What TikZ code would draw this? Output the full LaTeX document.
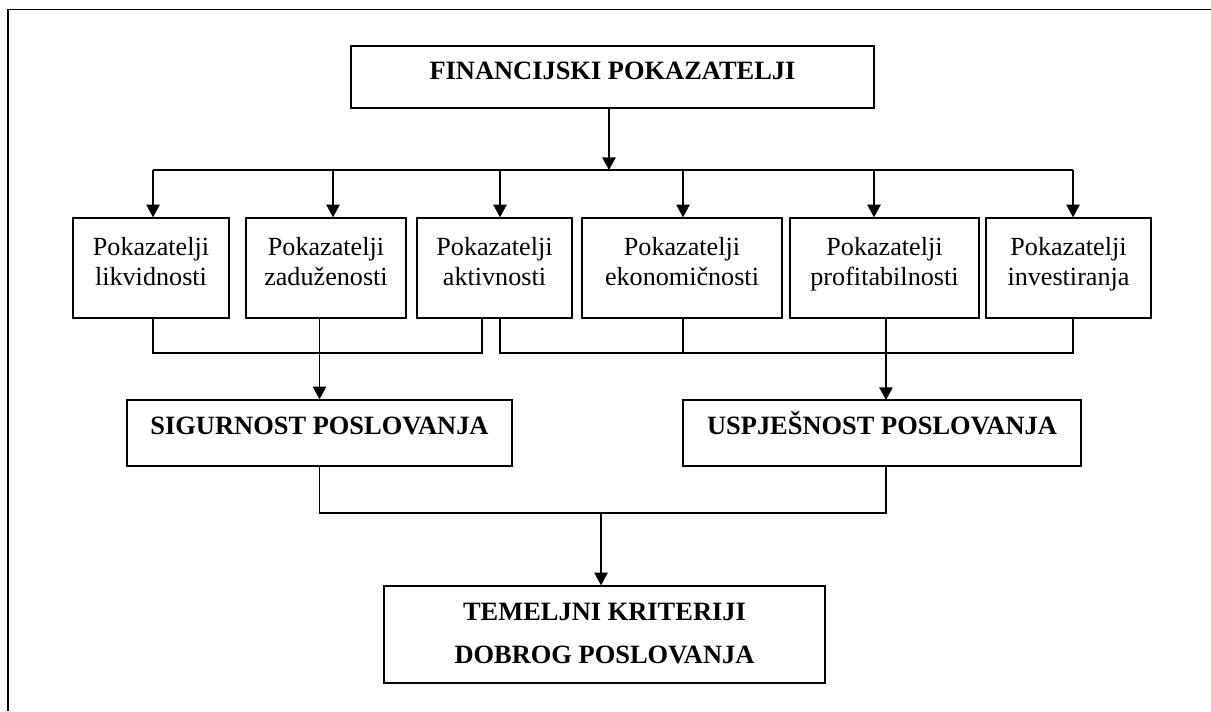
\documentclass[tikz,border=0pt]{standalone}
\usepackage{fontspec}
\setmainfont{Liberation Serif}
\usetikzlibrary{arrows.meta,positioning}

\begin{document}
\begin{tikzpicture}[
  x=0.025cm,y=-0.025cm,
  line width=1pt,
  box/.style={draw,rectangle,inner sep=0pt,align=center,
    font=\fontsize{18.6}{21.3}\selectfont},
  head/.style={box,font=\fontsize{18.8}{21.3}\selectfont\bfseries,
    text height=0.43cm},
  kind/.style={box,minimum height=2.5cm,text height=1.19cm,text depth=0.34cm},
  arr/.style={-{Triangle[width=9.5pt,length=9pt]}}
]
  \path[use as bounding box] (0,0) rectangle (1211,711);
  \draw[line width=1.2pt] (8,711) -- (8,9.5) -- (1211,9.5);

  \node[head,minimum width=13.075cm,minimum height=1.55cm,text depth=0.3cm]
    (fin) at (612.5,77) {FINANCIJSKI POKAZATELJI};

  \node[kind,minimum width=3.9cm]   (lik) at (151,268)   {Pokazatelji\\likvidnosti};
  \node[kind,minimum width=4.0cm]   (zad) at (326,268)   {Pokazatelji\\zaduženosti};
  \node[kind,minimum width=3.875cm] (akt) at (494.5,268) {Pokazatelji\\aktivnosti};
  \node[kind,minimum width=5.0cm]   (eko) at (682,268)   {Pokazatelji\\ekonomičnosti};
  \node[kind,minimum width=4.725cm] (pro) at (884.5,268) {Pokazatelji\\profitabilnosti};
  \node[kind,minimum width=4.125cm] (inv) at (1068.5,268) {Pokazatelji\\investiranja};

  \node[head,minimum width=9.625cm,minimum height=1.65cm,text depth=0.375cm]
    (sig) at (319.5,433) {SIGURNOST POSLOVANJA};
  \node[head,minimum width=9.95cm,minimum height=1.65cm,text depth=0.375cm]
    (usp) at (882,433) {USPJEŠNOST POSLOVANJA};

  \node[head,minimum width=11.025cm,minimum height=2.425cm,
    text height=1.5cm,text depth=0.05cm]
    (tem) at (604.5,634.5) {TEMELJNI KRITERIJI\\[9pt]DOBROG POSLOVANJA};

  % razdioba prema skupinama pokazatelja
  \coordinate (tm) at (609,170);
  \coordinate (t1) at (153,170);
  \coordinate (t2) at (333,170);
  \coordinate (t3) at (500,170);
  \coordinate (t4) at (683,170);
  \coordinate (t5) at (874,170);
  \coordinate (t6) at (1073,170);
  \draw[arr] (fin.south -| tm) -- (tm);
  \draw (t1) -- (t6);
  \foreach \c/\n in {t1/lik,t2/zad,t3/akt,t4/eko,t5/pro,t6/inv}
    \draw[arr] (\c) -- (\c |- \n.north);

  % spajanje u dvije skupine
  \coordinate (l1) at (153,353);
  \coordinate (l3) at (482,353);
  \coordinate (r3) at (500,353);
  \coordinate (r4) at (683,353);
  \coordinate (r6) at (1073,353);
  \draw (lik.south -| l1) -- (l1) -- (l3) -- (akt.south -| l3);
  \draw (akt.south -| r3) -- (r3) -- (r6) -- (inv.south -| r6);
  \draw (eko.south -| r4) -- (r4);
  \draw[arr] (zad.south -| sig.north) -- (sig.north);
  \coordinate (pu) at (886,400);
  \draw[arr] (pro.south -| pu) -- (pu);

  % temeljni kriteriji
  \coordinate (m) at (601,513);
  \draw (sig.south) -- (sig.south |- m) -- (m -| pu) -- (usp.south -| pu);
  \draw[arr] (m) -- (m |- tem.north);
\end{tikzpicture}
\end{document}
